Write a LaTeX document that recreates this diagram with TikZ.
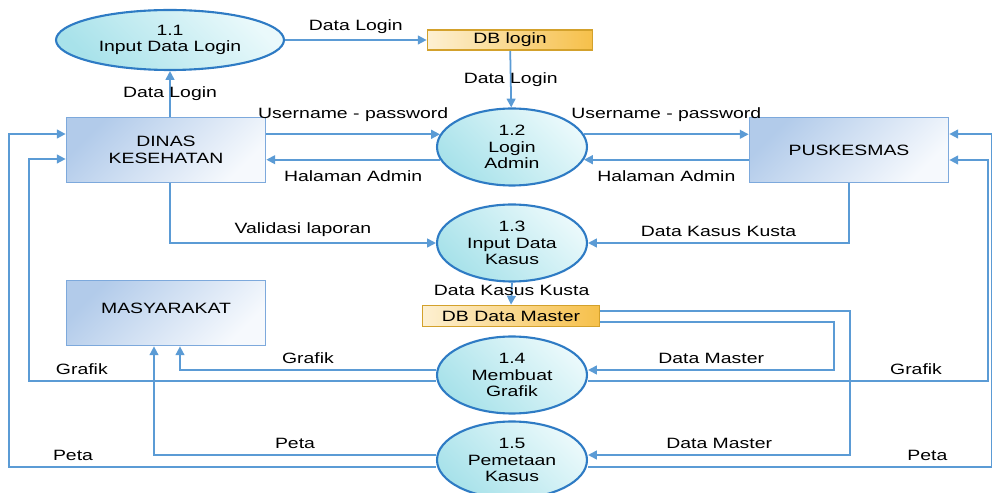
\documentclass[tikz,border=0pt]{standalone}
\usepackage{fontspec}
\setmainfont[FakeStretch=1.3]{Liberation Sans}
\usepackage{tikz}
\usepackage{xcolor}
\definecolor{FlowBlue}{HTML}{5B9BD5}
\definecolor{ProcEdge}{HTML}{2E7BC4}
\definecolor{ProcLight}{HTML}{EAF9FB}
\definecolor{ProcDark}{HTML}{A8E2EA}
\definecolor{EntDark}{HTML}{B2CBEA}
\definecolor{EntLight}{HTML}{F6F9FD}
\definecolor{EntEdge}{HTML}{7DA9DC}
\definecolor{StoreLight}{HTML}{FDF0D2}
\definecolor{StoreDark}{HTML}{F6C04A}
\definecolor{StoreEdge}{HTML}{D3A12C}
\usetikzlibrary{shapes.geometric, arrows.meta, positioning}

\tikzset{
    proc/.style={ellipse, draw=ProcEdge, line width=1.2pt, top color=ProcLight,
        bottom color=ProcDark, shading angle=-45, minimum width=3cm,
        minimum height=1.54cm, inner sep=0pt, align=center, font=\dfdfont},
    ent/.style={rectangle, draw=EntEdge, line width=1pt, top color=EntDark,
        bottom color=EntLight, shading angle=45, minimum width=3.98cm,
        minimum height=1.3cm, align=center, font=\dfdfont},
    store/.style={rectangle, draw=StoreEdge, line width=1pt, left color=StoreLight,
        right color=StoreDark, minimum width=3.3cm, minimum height=0.4cm,
        inner sep=0pt, font=\dfdfont},
    flow/.style={draw=FlowBlue, line width=1pt, -{Triangle[length=5pt, width=5pt]}},
    lbl/.style={font=\dfdfont, inner sep=1pt, text=black}
}
\newcommand{\dfdfont}{\fontsize{8.5}{9.5}\selectfont}

\begin{document}
\begin{tikzpicture}[x=0.02cm, y=-0.02cm]
    \useasboundingbox (0,0) rectangle (992,493);

    % Processes and stores
    \node[proc, minimum width=4.56cm, minimum height=1.2cm] (p11) at (170,40) {1.1\\Input Data Login};
    \node[store] (dblogin) at (510,40) {DB login};
    \node[proc] (p12) at (512,147) {1.2\\Login\\Admin};
    \node[proc] (p13) at (512,243) {1.3\\Input Data\\Kasus};
    \node[store, minimum width=3.54cm, minimum height=0.42cm] (dbmaster) at (511,316) {DB Data Master};
    \node[proc] (p14) at (512,375) {1.4\\Membuat\\Grafik};
    \node[proc] (p15) at (512,460) {1.5\\Pemetaan\\Kasus};

    % External entities
    \node[ent] (dinas) at (166,150) {DINAS\\KESEHATAN};
    \node[ent] (pusk) at (849,150) {PUSKESMAS};
    \node[ent, text depth=0.2cm] (masy) at (166,313) {MASYARAKAT};

    % Login flows
    \draw[flow] (p11) -- node[lbl, above=2pt] {Data Login} (dblogin);
    \draw[flow] (dblogin) -- node[lbl] {Data Login} (p12);
    \draw[flow] (p11.south |- dinas.north) -- node[lbl] {Data Login} (p11.south);
    \draw[flow] (dinas.east |- p12.170) -- node[lbl, above=6pt] {Username - password} (p12.170);
    \draw[flow] (p12.190) -- node[lbl, below=5pt] {Halaman Admin} (dinas.east |- p12.190);
    \draw[flow] (p12.10) -- node[lbl, above=6pt] {Username - password} (pusk.west |- p12.10);
    \draw[flow] (pusk.west |- p12.350) -- node[lbl, below=5pt] {Halaman Admin} (p12.350);

    % Data input
    \draw[flow] (p11.south |- dinas.south) |- node[lbl, above=2pt, pos=0.75] {Validasi laporan} (p13.west);
    \draw[flow] (pusk.south) |- node[lbl, above=2pt, pos=0.75] {Data Kasus Kusta} (p13.east);
    \draw[flow] (p13.south) -- node[lbl, pos=0.35] {Data Kasus Kusta} (dbmaster.north);

    % Master data
    \draw[flow] ([yshift=0.1cm]dbmaster.east) -- ++(250,0)
        |- node[lbl, above=2pt, pos=0.75] {Data Master} ([yshift=0.1cm]p15.east);
    \draw[flow] ([yshift=-0.12cm]dbmaster.east) -- ++(234,0)
        |- node[lbl, above=2pt, pos=0.75] {Data Master} ([yshift=0.1cm]p14.east);

    % Grafik
    \draw[flow] ([yshift=0.1cm]p14.west) -| node[lbl, above=2pt, pos=0.25] {Grafik} ([xshift=0.28cm]masy.south);
    \draw[flow] ([yshift=-0.12cm]p14.west) -- node[lbl, above=2pt, pos=0.87] {Grafik} ++(-407,0)
        |- ([yshift=-0.18cm]dinas.west);
    \draw[flow] ([yshift=-0.12cm]p14.east) -- node[lbl, above=2pt, pos=0.82] {Grafik} ++(400,0)
        |- ([yshift=-0.2cm]pusk.east);

    % Peta
    \draw[flow] ([yshift=0.1cm]p15.west) -| node[lbl, above=2pt, pos=0.25] {Peta} ([xshift=-0.24cm]masy.south);
    \draw[flow] ([yshift=-0.14cm]p15.west) -- node[lbl, above=2pt, pos=0.85] {Peta} ++(-427,0)
        |- ([yshift=0.32cm]dinas.west);
    \draw[flow] ([yshift=-0.14cm]p15.east) -- node[lbl, above=2pt, pos=0.84] {Peta} ++(404,0)
        |- ([yshift=0.32cm]pusk.east);
\end{tikzpicture}
\end{document}
